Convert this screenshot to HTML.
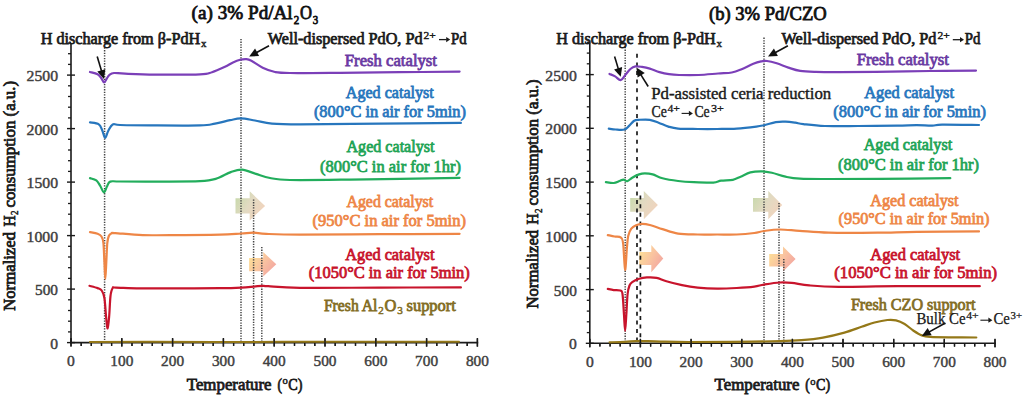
<!DOCTYPE html>
<html><head><meta charset="utf-8"><title>TPR profiles</title>
<style>
html,body{margin:0;padding:0;background:#fff;}
body{width:1024px;height:398px;overflow:hidden;font-family:"Liberation Serif", serif;}
svg{display:block;}
</style></head><body>
<svg width="1024" height="398" viewBox="0 0 1024 398">
<defs>
<linearGradient id="gG" x1="0" y1="0.2" x2="1" y2="0.8"><stop offset="0" stop-color="#c8d9ac"/><stop offset="0.45" stop-color="#e2dac2"/><stop offset="1" stop-color="#f4d2bc"/></linearGradient>
<linearGradient id="gR" x1="0" y1="0.2" x2="1" y2="0.8"><stop offset="0" stop-color="#fde096"/><stop offset="0.5" stop-color="#f9c2a0"/><stop offset="1" stop-color="#f2a2a0"/></linearGradient>
</defs>
<rect width="1024" height="398" fill="#ffffff"/>
<g font-family="'Liberation Serif', serif">
<polygon points="235.5,198.2 249.7,198.2 249.7,191.3 265.1,205.9 249.7,220.4 249.7,213.4 235.5,213.4" fill="url(#gG)"/>
<polygon points="249.1,258.1 263.2,258.1 263.2,252.1 276.3,264.2 263.2,276.4 263.2,271.2 249.1,271.2" fill="url(#gR)"/>
<line x1="104.6" y1="47.5" x2="104.6" y2="342.6" stroke="#444444" stroke-width="1.50" stroke-dasharray="1.3 1.3"/>
<line x1="241.0" y1="39.0" x2="241.0" y2="342.6" stroke="#444444" stroke-width="1.50" stroke-dasharray="1.3 1.3"/>
<line x1="253.6" y1="199.5" x2="253.6" y2="342.6" stroke="#444444" stroke-width="1.50" stroke-dasharray="1.3 1.3"/>
<line x1="261.8" y1="247.0" x2="261.8" y2="342.6" stroke="#444444" stroke-width="1.50" stroke-dasharray="1.3 1.3"/>
<line x1="71.0" y1="43.0" x2="71.0" y2="343.4" stroke="#1a1a1a" stroke-width="1.6"/>
<line x1="70.2" y1="342.6" x2="478.2" y2="342.6" stroke="#1a1a1a" stroke-width="1.6"/>
<line x1="67.0" y1="342.6" x2="75.0" y2="342.6" stroke="#1a1a1a" stroke-width="1.4"/>
<text x="50.2" y="348.6" font-size="15.5" fill="#404040" stroke="#404040" stroke-width="0.45" font-weight="normal" textLength="7.8" lengthAdjust="spacingAndGlyphs">0</text>
<line x1="68.0" y1="331.9" x2="71.0" y2="331.9" stroke="#1a1a1a" stroke-width="1.3"/>
<line x1="68.0" y1="321.2" x2="71.0" y2="321.2" stroke="#1a1a1a" stroke-width="1.3"/>
<line x1="68.0" y1="310.5" x2="71.0" y2="310.5" stroke="#1a1a1a" stroke-width="1.3"/>
<line x1="68.0" y1="299.8" x2="71.0" y2="299.8" stroke="#1a1a1a" stroke-width="1.3"/>
<line x1="67.0" y1="289.1" x2="75.0" y2="289.1" stroke="#1a1a1a" stroke-width="1.4"/>
<text x="35.0" y="295.1" font-size="15.5" fill="#404040" stroke="#404040" stroke-width="0.45" font-weight="normal" textLength="23.0" lengthAdjust="spacingAndGlyphs">500</text>
<line x1="68.0" y1="278.4" x2="71.0" y2="278.4" stroke="#1a1a1a" stroke-width="1.3"/>
<line x1="68.0" y1="267.7" x2="71.0" y2="267.7" stroke="#1a1a1a" stroke-width="1.3"/>
<line x1="68.0" y1="257.0" x2="71.0" y2="257.0" stroke="#1a1a1a" stroke-width="1.3"/>
<line x1="68.0" y1="246.3" x2="71.0" y2="246.3" stroke="#1a1a1a" stroke-width="1.3"/>
<line x1="67.0" y1="235.6" x2="75.0" y2="235.6" stroke="#1a1a1a" stroke-width="1.4"/>
<text x="26.5" y="241.6" font-size="15.5" fill="#404040" stroke="#404040" stroke-width="0.45" font-weight="normal" textLength="31.5" lengthAdjust="spacingAndGlyphs">1000</text>
<line x1="68.0" y1="224.9" x2="71.0" y2="224.9" stroke="#1a1a1a" stroke-width="1.3"/>
<line x1="68.0" y1="214.2" x2="71.0" y2="214.2" stroke="#1a1a1a" stroke-width="1.3"/>
<line x1="68.0" y1="203.5" x2="71.0" y2="203.5" stroke="#1a1a1a" stroke-width="1.3"/>
<line x1="68.0" y1="192.8" x2="71.0" y2="192.8" stroke="#1a1a1a" stroke-width="1.3"/>
<line x1="67.0" y1="182.1" x2="75.0" y2="182.1" stroke="#1a1a1a" stroke-width="1.4"/>
<text x="26.5" y="188.1" font-size="15.5" fill="#404040" stroke="#404040" stroke-width="0.45" font-weight="normal" textLength="31.5" lengthAdjust="spacingAndGlyphs">1500</text>
<line x1="68.0" y1="171.4" x2="71.0" y2="171.4" stroke="#1a1a1a" stroke-width="1.3"/>
<line x1="68.0" y1="160.7" x2="71.0" y2="160.7" stroke="#1a1a1a" stroke-width="1.3"/>
<line x1="68.0" y1="150.0" x2="71.0" y2="150.0" stroke="#1a1a1a" stroke-width="1.3"/>
<line x1="68.0" y1="139.3" x2="71.0" y2="139.3" stroke="#1a1a1a" stroke-width="1.3"/>
<line x1="67.0" y1="128.6" x2="75.0" y2="128.6" stroke="#1a1a1a" stroke-width="1.4"/>
<text x="26.5" y="134.6" font-size="15.5" fill="#404040" stroke="#404040" stroke-width="0.45" font-weight="normal" textLength="31.5" lengthAdjust="spacingAndGlyphs">2000</text>
<line x1="68.0" y1="117.9" x2="71.0" y2="117.9" stroke="#1a1a1a" stroke-width="1.3"/>
<line x1="68.0" y1="107.2" x2="71.0" y2="107.2" stroke="#1a1a1a" stroke-width="1.3"/>
<line x1="68.0" y1="96.5" x2="71.0" y2="96.5" stroke="#1a1a1a" stroke-width="1.3"/>
<line x1="68.0" y1="85.8" x2="71.0" y2="85.8" stroke="#1a1a1a" stroke-width="1.3"/>
<line x1="67.0" y1="75.1" x2="75.0" y2="75.1" stroke="#1a1a1a" stroke-width="1.4"/>
<text x="26.5" y="81.1" font-size="15.5" fill="#404040" stroke="#404040" stroke-width="0.45" font-weight="normal" textLength="31.5" lengthAdjust="spacingAndGlyphs">2500</text>
<line x1="68.0" y1="64.4" x2="71.0" y2="64.4" stroke="#1a1a1a" stroke-width="1.3"/>
<line x1="68.0" y1="53.7" x2="71.0" y2="53.7" stroke="#1a1a1a" stroke-width="1.3"/>
<line x1="68.0" y1="43.0" x2="71.0" y2="43.0" stroke="#1a1a1a" stroke-width="1.3"/>
<line x1="71.0" y1="338.6" x2="71.0" y2="346.6" stroke="#1a1a1a" stroke-width="1.4"/>
<text x="67.1" y="366.2" font-size="15.5" fill="#404040" stroke="#404040" stroke-width="0.45" font-weight="normal" textLength="7.8" lengthAdjust="spacingAndGlyphs">0</text>
<line x1="81.2" y1="342.6" x2="81.2" y2="345.9" stroke="#1a1a1a" stroke-width="1.3"/>
<line x1="91.3" y1="342.6" x2="91.3" y2="345.9" stroke="#1a1a1a" stroke-width="1.3"/>
<line x1="101.5" y1="342.6" x2="101.5" y2="345.9" stroke="#1a1a1a" stroke-width="1.3"/>
<line x1="111.6" y1="342.6" x2="111.6" y2="345.9" stroke="#1a1a1a" stroke-width="1.3"/>
<line x1="121.8" y1="338.6" x2="121.8" y2="346.6" stroke="#1a1a1a" stroke-width="1.4"/>
<text x="110.3" y="366.2" font-size="15.5" fill="#404040" stroke="#404040" stroke-width="0.45" font-weight="normal" textLength="23.0" lengthAdjust="spacingAndGlyphs">100</text>
<line x1="132.0" y1="342.6" x2="132.0" y2="345.9" stroke="#1a1a1a" stroke-width="1.3"/>
<line x1="142.1" y1="342.6" x2="142.1" y2="345.9" stroke="#1a1a1a" stroke-width="1.3"/>
<line x1="152.3" y1="342.6" x2="152.3" y2="345.9" stroke="#1a1a1a" stroke-width="1.3"/>
<line x1="162.4" y1="342.6" x2="162.4" y2="345.9" stroke="#1a1a1a" stroke-width="1.3"/>
<line x1="172.6" y1="338.6" x2="172.6" y2="346.6" stroke="#1a1a1a" stroke-width="1.4"/>
<text x="161.1" y="366.2" font-size="15.5" fill="#404040" stroke="#404040" stroke-width="0.45" font-weight="normal" textLength="23.0" lengthAdjust="spacingAndGlyphs">200</text>
<line x1="182.8" y1="342.6" x2="182.8" y2="345.9" stroke="#1a1a1a" stroke-width="1.3"/>
<line x1="192.9" y1="342.6" x2="192.9" y2="345.9" stroke="#1a1a1a" stroke-width="1.3"/>
<line x1="203.1" y1="342.6" x2="203.1" y2="345.9" stroke="#1a1a1a" stroke-width="1.3"/>
<line x1="213.2" y1="342.6" x2="213.2" y2="345.9" stroke="#1a1a1a" stroke-width="1.3"/>
<line x1="223.4" y1="338.6" x2="223.4" y2="346.6" stroke="#1a1a1a" stroke-width="1.4"/>
<text x="211.9" y="366.2" font-size="15.5" fill="#404040" stroke="#404040" stroke-width="0.45" font-weight="normal" textLength="23.0" lengthAdjust="spacingAndGlyphs">300</text>
<line x1="233.6" y1="342.6" x2="233.6" y2="345.9" stroke="#1a1a1a" stroke-width="1.3"/>
<line x1="243.7" y1="342.6" x2="243.7" y2="345.9" stroke="#1a1a1a" stroke-width="1.3"/>
<line x1="253.9" y1="342.6" x2="253.9" y2="345.9" stroke="#1a1a1a" stroke-width="1.3"/>
<line x1="264.0" y1="342.6" x2="264.0" y2="345.9" stroke="#1a1a1a" stroke-width="1.3"/>
<line x1="274.2" y1="338.6" x2="274.2" y2="346.6" stroke="#1a1a1a" stroke-width="1.4"/>
<text x="262.7" y="366.2" font-size="15.5" fill="#404040" stroke="#404040" stroke-width="0.45" font-weight="normal" textLength="23.0" lengthAdjust="spacingAndGlyphs">400</text>
<line x1="284.4" y1="342.6" x2="284.4" y2="345.9" stroke="#1a1a1a" stroke-width="1.3"/>
<line x1="294.5" y1="342.6" x2="294.5" y2="345.9" stroke="#1a1a1a" stroke-width="1.3"/>
<line x1="304.7" y1="342.6" x2="304.7" y2="345.9" stroke="#1a1a1a" stroke-width="1.3"/>
<line x1="314.8" y1="342.6" x2="314.8" y2="345.9" stroke="#1a1a1a" stroke-width="1.3"/>
<line x1="325.0" y1="338.6" x2="325.0" y2="346.6" stroke="#1a1a1a" stroke-width="1.4"/>
<text x="313.5" y="366.2" font-size="15.5" fill="#404040" stroke="#404040" stroke-width="0.45" font-weight="normal" textLength="23.0" lengthAdjust="spacingAndGlyphs">500</text>
<line x1="335.2" y1="342.6" x2="335.2" y2="345.9" stroke="#1a1a1a" stroke-width="1.3"/>
<line x1="345.3" y1="342.6" x2="345.3" y2="345.9" stroke="#1a1a1a" stroke-width="1.3"/>
<line x1="355.5" y1="342.6" x2="355.5" y2="345.9" stroke="#1a1a1a" stroke-width="1.3"/>
<line x1="365.6" y1="342.6" x2="365.6" y2="345.9" stroke="#1a1a1a" stroke-width="1.3"/>
<line x1="375.8" y1="338.6" x2="375.8" y2="346.6" stroke="#1a1a1a" stroke-width="1.4"/>
<text x="364.3" y="366.2" font-size="15.5" fill="#404040" stroke="#404040" stroke-width="0.45" font-weight="normal" textLength="23.0" lengthAdjust="spacingAndGlyphs">600</text>
<line x1="386.0" y1="342.6" x2="386.0" y2="345.9" stroke="#1a1a1a" stroke-width="1.3"/>
<line x1="396.1" y1="342.6" x2="396.1" y2="345.9" stroke="#1a1a1a" stroke-width="1.3"/>
<line x1="406.3" y1="342.6" x2="406.3" y2="345.9" stroke="#1a1a1a" stroke-width="1.3"/>
<line x1="416.4" y1="342.6" x2="416.4" y2="345.9" stroke="#1a1a1a" stroke-width="1.3"/>
<line x1="426.6" y1="338.6" x2="426.6" y2="346.6" stroke="#1a1a1a" stroke-width="1.4"/>
<text x="415.1" y="366.2" font-size="15.5" fill="#404040" stroke="#404040" stroke-width="0.45" font-weight="normal" textLength="23.0" lengthAdjust="spacingAndGlyphs">700</text>
<line x1="436.8" y1="342.6" x2="436.8" y2="345.9" stroke="#1a1a1a" stroke-width="1.3"/>
<line x1="446.9" y1="342.6" x2="446.9" y2="345.9" stroke="#1a1a1a" stroke-width="1.3"/>
<line x1="457.1" y1="342.6" x2="457.1" y2="345.9" stroke="#1a1a1a" stroke-width="1.3"/>
<line x1="467.2" y1="342.6" x2="467.2" y2="345.9" stroke="#1a1a1a" stroke-width="1.3"/>
<line x1="477.4" y1="338.6" x2="477.4" y2="346.6" stroke="#1a1a1a" stroke-width="1.4"/>
<text x="465.9" y="366.2" font-size="15.5" fill="#404040" stroke="#404040" stroke-width="0.45" font-weight="normal" textLength="23.0" lengthAdjust="spacingAndGlyphs">800</text>
<path d="M90.00,72.00 C91.27,72.37 95.68,73.12 97.60,74.20 C99.52,75.28 100.42,77.12 101.50,78.50 C102.58,79.88 103.22,82.50 104.10,82.50 C104.98,82.50 105.90,79.78 106.80,78.50 C107.70,77.22 108.30,75.72 109.50,74.80 C110.70,73.88 111.42,73.18 114.00,73.00 C116.58,72.82 118.17,73.43 125.00,73.70 C131.83,73.97 142.50,74.48 155.00,74.60 C167.50,74.72 190.50,74.80 200.00,74.40 C209.50,74.00 207.83,73.47 212.00,72.20 C216.17,70.93 221.50,68.42 225.00,66.80 C228.50,65.18 230.48,63.67 233.00,62.50 C235.52,61.33 237.87,60.37 240.10,59.80 C242.33,59.23 244.52,58.93 246.40,59.10 C248.28,59.27 248.68,59.37 251.40,60.80 C254.12,62.23 258.77,65.83 262.70,67.70 C266.63,69.57 270.45,71.12 275.00,72.00 C279.55,72.88 279.17,72.87 290.00,73.00 C300.83,73.13 321.67,72.93 340.00,72.80 C358.33,72.67 380.07,72.40 400.00,72.20 C419.93,72.00 449.67,71.70 459.60,71.60" fill="none" stroke="#7b3fb8" stroke-width="2.20" stroke-linejoin="round" stroke-linecap="round" />
<path d="M90.00,122.40 C91.47,122.72 96.75,122.95 98.80,124.30 C100.85,125.65 101.25,128.25 102.30,130.50 C103.35,132.75 104.12,137.72 105.10,137.80 C106.08,137.88 106.93,133.22 108.20,131.00 C109.47,128.78 110.73,125.50 112.70,124.50 C114.67,123.50 113.78,124.85 120.00,125.00 C126.22,125.15 136.67,125.33 150.00,125.40 C163.33,125.47 189.17,125.70 200.00,125.40 C210.83,125.10 210.00,124.47 215.00,123.60 C220.00,122.73 225.70,121.07 230.00,120.20 C234.30,119.33 236.63,118.35 240.80,118.40 C244.97,118.45 249.80,119.63 255.00,120.50 C260.20,121.37 264.50,122.97 272.00,123.60 C279.50,124.23 282.00,124.30 300.00,124.30 C318.00,124.30 353.18,123.83 380.00,123.60 C406.82,123.37 447.42,123.02 460.90,122.90" fill="none" stroke="#2776bd" stroke-width="2.20" stroke-linejoin="round" stroke-linecap="round" />
<path d="M90.00,178.10 C91.05,178.48 94.58,179.08 96.30,180.40 C98.02,181.72 99.03,184.02 100.30,186.00 C101.57,187.98 102.78,192.22 103.90,192.30 C105.02,192.38 105.95,188.28 107.00,186.50 C108.05,184.72 108.03,182.43 110.20,181.60 C112.37,180.77 111.70,181.50 120.00,181.50 C128.30,181.50 146.67,181.65 160.00,181.60 C173.33,181.55 190.72,181.65 200.00,181.20 C209.28,180.75 210.57,180.42 215.70,178.90 C220.83,177.38 226.42,173.65 230.80,172.10 C235.18,170.55 237.82,169.30 242.00,169.60 C246.18,169.90 251.23,172.50 255.90,173.90 C260.57,175.30 264.32,176.98 270.00,178.00 C275.68,179.02 276.67,179.73 290.00,180.00 C303.33,180.27 321.73,179.97 350.00,179.60 C378.27,179.23 441.33,178.10 459.60,177.80" fill="none" stroke="#22ad5c" stroke-width="2.20" stroke-linejoin="round" stroke-linecap="round" />
<path d="M90.00,232.10 C91.27,232.38 95.68,233.07 97.60,233.80 C99.52,234.53 100.53,234.97 101.50,236.50 C102.47,238.03 102.92,238.75 103.40,243.00 C103.88,247.25 104.08,256.00 104.40,262.00 C104.72,268.00 104.98,279.00 105.30,279.00 C105.62,279.00 105.97,268.00 106.30,262.00 C106.63,256.00 106.88,247.33 107.30,243.00 C107.72,238.67 108.13,237.60 108.80,236.00 C109.47,234.40 110.23,233.88 111.30,233.40 C112.37,232.92 109.95,232.82 115.20,233.10 C120.45,233.38 132.00,234.77 142.80,235.10 C153.60,235.43 167.13,235.17 180.00,235.10 C192.87,235.03 209.82,234.97 220.00,234.70 C230.18,234.43 235.47,233.83 241.10,233.50 C246.73,233.17 249.62,232.63 253.80,232.70 C257.98,232.77 258.50,233.57 266.20,233.90 C273.90,234.23 281.03,234.65 300.00,234.70 C318.97,234.75 353.40,234.35 380.00,234.20 C406.60,234.05 446.33,233.87 459.60,233.80" fill="none" stroke="#ee8646" stroke-width="2.20" stroke-linejoin="round" stroke-linecap="round" />
<path d="M89.50,285.80 C90.85,286.18 95.57,287.32 97.60,288.10 C99.63,288.88 100.57,288.85 101.70,290.50 C102.83,292.15 103.65,293.42 104.40,298.00 C105.15,302.58 105.65,312.93 106.20,318.00 C106.75,323.07 107.20,328.73 107.70,328.40 C108.20,328.07 108.73,321.40 109.20,316.00 C109.67,310.60 109.92,300.67 110.50,296.00 C111.08,291.33 111.78,289.40 112.70,288.00 C113.62,286.60 111.45,287.55 116.00,287.60 C120.55,287.65 129.33,288.18 140.00,288.30 C150.67,288.42 166.67,288.32 180.00,288.30 C193.33,288.28 209.82,288.32 220.00,288.20 C230.18,288.08 235.47,287.87 241.10,287.60 C246.73,287.33 250.28,286.90 253.80,286.60 C257.32,286.30 259.80,285.87 262.20,285.80 C264.60,285.73 261.90,285.87 268.20,286.20 C274.50,286.53 281.37,287.57 300.00,287.80 C318.63,288.03 353.18,287.67 380.00,287.60 C406.82,287.53 447.42,287.43 460.90,287.40" fill="none" stroke="#c8142c" stroke-width="2.20" stroke-linejoin="round" stroke-linecap="round" />
<path d="M89.90,342.00 C99.92,341.97 123.32,341.82 150.00,341.80 C176.68,341.78 216.67,341.92 250.00,341.90 C283.33,341.88 315.17,341.72 350.00,341.70 C384.83,341.68 440.83,341.78 459.00,341.80" fill="none" stroke="#947818" stroke-width="2.00" stroke-linejoin="round" stroke-linecap="round" />
<line x1="71.0" y1="338.0" x2="71.0" y2="346.6" stroke="#1a1a1a" stroke-width="1.4"/>
<line x1="81.2" y1="343.2" x2="81.2" y2="345.9" stroke="#1a1a1a" stroke-width="1.3"/>
<line x1="91.3" y1="343.2" x2="91.3" y2="345.9" stroke="#1a1a1a" stroke-width="1.3"/>
<line x1="101.5" y1="343.2" x2="101.5" y2="345.9" stroke="#1a1a1a" stroke-width="1.3"/>
<line x1="111.6" y1="343.2" x2="111.6" y2="345.9" stroke="#1a1a1a" stroke-width="1.3"/>
<line x1="121.8" y1="338.0" x2="121.8" y2="346.6" stroke="#1a1a1a" stroke-width="1.4"/>
<line x1="132.0" y1="343.2" x2="132.0" y2="345.9" stroke="#1a1a1a" stroke-width="1.3"/>
<line x1="142.1" y1="343.2" x2="142.1" y2="345.9" stroke="#1a1a1a" stroke-width="1.3"/>
<line x1="152.3" y1="343.2" x2="152.3" y2="345.9" stroke="#1a1a1a" stroke-width="1.3"/>
<line x1="162.4" y1="343.2" x2="162.4" y2="345.9" stroke="#1a1a1a" stroke-width="1.3"/>
<line x1="172.6" y1="338.0" x2="172.6" y2="346.6" stroke="#1a1a1a" stroke-width="1.4"/>
<line x1="182.8" y1="343.2" x2="182.8" y2="345.9" stroke="#1a1a1a" stroke-width="1.3"/>
<line x1="192.9" y1="343.2" x2="192.9" y2="345.9" stroke="#1a1a1a" stroke-width="1.3"/>
<line x1="203.1" y1="343.2" x2="203.1" y2="345.9" stroke="#1a1a1a" stroke-width="1.3"/>
<line x1="213.2" y1="343.2" x2="213.2" y2="345.9" stroke="#1a1a1a" stroke-width="1.3"/>
<line x1="223.4" y1="338.0" x2="223.4" y2="346.6" stroke="#1a1a1a" stroke-width="1.4"/>
<line x1="233.6" y1="343.2" x2="233.6" y2="345.9" stroke="#1a1a1a" stroke-width="1.3"/>
<line x1="243.7" y1="343.2" x2="243.7" y2="345.9" stroke="#1a1a1a" stroke-width="1.3"/>
<line x1="253.9" y1="343.2" x2="253.9" y2="345.9" stroke="#1a1a1a" stroke-width="1.3"/>
<line x1="264.0" y1="343.2" x2="264.0" y2="345.9" stroke="#1a1a1a" stroke-width="1.3"/>
<line x1="274.2" y1="338.0" x2="274.2" y2="346.6" stroke="#1a1a1a" stroke-width="1.4"/>
<line x1="284.4" y1="343.2" x2="284.4" y2="345.9" stroke="#1a1a1a" stroke-width="1.3"/>
<line x1="294.5" y1="343.2" x2="294.5" y2="345.9" stroke="#1a1a1a" stroke-width="1.3"/>
<line x1="304.7" y1="343.2" x2="304.7" y2="345.9" stroke="#1a1a1a" stroke-width="1.3"/>
<line x1="314.8" y1="343.2" x2="314.8" y2="345.9" stroke="#1a1a1a" stroke-width="1.3"/>
<line x1="325.0" y1="338.0" x2="325.0" y2="346.6" stroke="#1a1a1a" stroke-width="1.4"/>
<line x1="335.2" y1="343.2" x2="335.2" y2="345.9" stroke="#1a1a1a" stroke-width="1.3"/>
<line x1="345.3" y1="343.2" x2="345.3" y2="345.9" stroke="#1a1a1a" stroke-width="1.3"/>
<line x1="355.5" y1="343.2" x2="355.5" y2="345.9" stroke="#1a1a1a" stroke-width="1.3"/>
<line x1="365.6" y1="343.2" x2="365.6" y2="345.9" stroke="#1a1a1a" stroke-width="1.3"/>
<line x1="375.8" y1="338.0" x2="375.8" y2="346.6" stroke="#1a1a1a" stroke-width="1.4"/>
<line x1="386.0" y1="343.2" x2="386.0" y2="345.9" stroke="#1a1a1a" stroke-width="1.3"/>
<line x1="396.1" y1="343.2" x2="396.1" y2="345.9" stroke="#1a1a1a" stroke-width="1.3"/>
<line x1="406.3" y1="343.2" x2="406.3" y2="345.9" stroke="#1a1a1a" stroke-width="1.3"/>
<line x1="416.4" y1="343.2" x2="416.4" y2="345.9" stroke="#1a1a1a" stroke-width="1.3"/>
<line x1="426.6" y1="338.0" x2="426.6" y2="346.6" stroke="#1a1a1a" stroke-width="1.4"/>
<line x1="436.8" y1="343.2" x2="436.8" y2="345.9" stroke="#1a1a1a" stroke-width="1.3"/>
<line x1="446.9" y1="343.2" x2="446.9" y2="345.9" stroke="#1a1a1a" stroke-width="1.3"/>
<line x1="457.1" y1="343.2" x2="457.1" y2="345.9" stroke="#1a1a1a" stroke-width="1.3"/>
<line x1="467.2" y1="343.2" x2="467.2" y2="345.9" stroke="#1a1a1a" stroke-width="1.3"/>
<line x1="477.4" y1="338.0" x2="477.4" y2="346.6" stroke="#1a1a1a" stroke-width="1.4"/>
<line x1="97.2" y1="56.6" x2="101.61" y2="71.34" stroke="#111" stroke-width="1.60"/>
<polygon points="103.90,79.00 97.30,71.58 105.34,69.17" fill="#111"/>
<line x1="269.0" y1="45.7" x2="256.21" y2="52.74" stroke="#111" stroke-width="1.60"/>
<polygon points="249.20,56.60 255.06,48.58 259.11,55.94" fill="#111"/>
<text x="191.6" y="19.4" font-size="18.5" fill="#111" font-weight="normal" stroke="#111" stroke-width="0.8" textLength="101.1" lengthAdjust="spacingAndGlyphs">(a) 3% Pd/Al</text>
<text x="293.7" y="23.5" font-size="13.0" fill="#111" font-weight="normal" stroke="#111" stroke-width="0.8" textLength="5.5" lengthAdjust="spacingAndGlyphs">2</text>
<text x="300.0" y="19.4" font-size="18.5" fill="#111" font-weight="normal" stroke="#111" stroke-width="0.8" textLength="12.0" lengthAdjust="spacingAndGlyphs">O</text>
<text x="312.8" y="23.5" font-size="13.0" fill="#111" font-weight="normal" stroke="#111" stroke-width="0.8" textLength="5.4" lengthAdjust="spacingAndGlyphs">3</text>
<text x="40.7" y="44.4" font-size="16.5" fill="#1a1a1a" font-weight="normal" stroke="#1a1a1a" stroke-width="0.75" textLength="159.5" lengthAdjust="spacingAndGlyphs">H discharge from &#946;-PdH</text>
<text x="201.0" y="47.4" font-size="11.0" fill="#1a1a1a" font-weight="normal" stroke="#1a1a1a" stroke-width="0.4" textLength="5.5" lengthAdjust="spacingAndGlyphs">x</text>
<text x="267.7" y="43.8" font-size="16.5" fill="#1a1a1a" font-weight="normal" stroke="#1a1a1a" stroke-width="0.75" textLength="154.9" lengthAdjust="spacingAndGlyphs">Well-dispersed PdO, Pd</text>
<text x="423.6" y="38.8" font-size="10.5" fill="#1a1a1a" font-weight="normal" stroke="#1a1a1a" stroke-width="0.4" textLength="12.3" lengthAdjust="spacingAndGlyphs">2+</text>
<line x1="439.0" y1="39.6" x2="446.7" y2="39.6" stroke="#1a1a1a" stroke-width="1.30"/>
<polygon points="450.2,39.6 446.2,37.0 446.2,42.2" fill="#1a1a1a"/>
<text x="451.0" y="43.8" font-size="16.5" fill="#1a1a1a" font-weight="normal" stroke="#1a1a1a" stroke-width="0.75" textLength="15.6" lengthAdjust="spacingAndGlyphs">Pd</text>
<text x="344.8" y="65.7" font-size="16.5" fill="#6a3aa2" font-weight="normal" stroke="#6a3aa2" stroke-width="0.77" textLength="92.2" lengthAdjust="spacingAndGlyphs">Fresh catalyst</text>
<text x="345.8" y="97.7" font-size="16.5" fill="#2776bd" font-weight="normal" stroke="#2776bd" stroke-width="0.77" textLength="88.0" lengthAdjust="spacingAndGlyphs">Aged catalyst</text>
<text x="313.9" y="117.3" font-size="16.5" fill="#2776bd" font-weight="normal" stroke="#2776bd" stroke-width="0.77" textLength="152.0" lengthAdjust="spacingAndGlyphs">(800&#176;C in air for 5min)</text>
<text x="346.5" y="152.1" font-size="16.5" fill="#1fa456" font-weight="normal" stroke="#1fa456" stroke-width="0.77" textLength="88.0" lengthAdjust="spacingAndGlyphs">Aged catalyst</text>
<text x="320.1" y="171.5" font-size="16.5" fill="#1fa456" font-weight="normal" stroke="#1fa456" stroke-width="0.77" textLength="140.8" lengthAdjust="spacingAndGlyphs">(800&#176;C in air for 1hr)</text>
<text x="346.5" y="206.7" font-size="16.5" fill="#ee8646" font-weight="normal" stroke="#ee8646" stroke-width="0.77" textLength="86.7" lengthAdjust="spacingAndGlyphs">Aged catalyst</text>
<text x="312.6" y="225.5" font-size="16.5" fill="#ee8646" font-weight="normal" stroke="#ee8646" stroke-width="0.77" textLength="153.3" lengthAdjust="spacingAndGlyphs">(950&#176;C in air for 5min)</text>
<text x="345.2" y="260.2" font-size="16.5" fill="#c8142c" font-weight="normal" stroke="#c8142c" stroke-width="0.77" textLength="89.3" lengthAdjust="spacingAndGlyphs">Aged catalyst</text>
<text x="308.8" y="278.3" font-size="16.5" fill="#c8142c" font-weight="normal" stroke="#c8142c" stroke-width="0.77" textLength="160.9" lengthAdjust="spacingAndGlyphs">(1050&#176;C in air for 5min)</text>
<text x="323.9" y="311.0" font-size="16.5" fill="#836d24" font-weight="normal" stroke="#836d24" stroke-width="0.77" textLength="53.6" lengthAdjust="spacingAndGlyphs">Fresh Al</text>
<text x="378.3" y="314.3" font-size="11.0" fill="#836d24" font-weight="normal" stroke="#836d24" stroke-width="0.52" textLength="5.5" lengthAdjust="spacingAndGlyphs">2</text>
<text x="384.6" y="311.0" font-size="16.5" fill="#836d24" font-weight="normal" stroke="#836d24" stroke-width="0.77" textLength="11.9" lengthAdjust="spacingAndGlyphs">O</text>
<text x="397.3" y="314.3" font-size="11.0" fill="#836d24" font-weight="normal" stroke="#836d24" stroke-width="0.52" textLength="5.5" lengthAdjust="spacingAndGlyphs">3</text>
<text x="406.5" y="311.0" font-size="16.5" fill="#836d24" font-weight="normal" stroke="#836d24" stroke-width="0.77" textLength="49.4" lengthAdjust="spacingAndGlyphs">support</text>
<text x="186.8" y="389.6" font-size="16.5" fill="#1a1a1a" font-weight="normal" stroke="#1a1a1a" stroke-width="0.77" textLength="84.8" lengthAdjust="spacingAndGlyphs">Temperature</text>
<text x="277.4" y="389.6" font-size="16.5" fill="#1a1a1a" font-weight="normal" stroke="#1a1a1a" stroke-width="0.77" textLength="4.5" lengthAdjust="spacingAndGlyphs">(</text>
<text x="282.5" y="384.1" font-size="10.0" fill="#1a1a1a" font-weight="normal" stroke="#1a1a1a" stroke-width="0.47" textLength="5.3" lengthAdjust="spacingAndGlyphs">o</text>
<text x="288.3" y="389.6" font-size="16.5" fill="#1a1a1a" font-weight="normal" stroke="#1a1a1a" stroke-width="0.77" textLength="14.1" lengthAdjust="spacingAndGlyphs">C)</text>
<g transform="translate(14.8,310.8) rotate(-90)">
<text x="0.0" y="0.0" font-size="16.5" fill="#1a1a1a" font-weight="normal" stroke="#1a1a1a" stroke-width="0.77" textLength="78.8" lengthAdjust="spacingAndGlyphs">Normalized</text>
<text x="84.2" y="0.0" font-size="16.5" fill="#1a1a1a" font-weight="normal" stroke="#1a1a1a" stroke-width="0.77" textLength="11.1" lengthAdjust="spacingAndGlyphs">H</text>
<text x="95.8" y="3.6" font-size="11.0" fill="#1a1a1a" font-weight="normal" stroke="#1a1a1a" stroke-width="0.52" textLength="4.5" lengthAdjust="spacingAndGlyphs">2</text>
<text x="103.3" y="0.0" font-size="16.5" fill="#1a1a1a" font-weight="normal" stroke="#1a1a1a" stroke-width="0.77" textLength="126.5" lengthAdjust="spacingAndGlyphs">consumption (a.u.)</text>
</g>
<polygon points="630.2,198.1 643.8,198.1 643.8,191.0 657.9,205.1 643.8,219.2 643.8,211.8 630.2,211.8" fill="url(#gG)"/>
<polygon points="753.0,198.1 768.3,198.1 768.3,191.0 782.2,205.1 768.3,219.2 768.3,211.8 753.0,211.8" fill="url(#gG)"/>
<polygon points="639.2,252.1 651.3,252.1 651.3,245.0 663.3,258.6 651.3,272.2 651.3,265.1 639.2,265.1" fill="url(#gR)"/>
<polygon points="769.2,254.0 783.0,254.0 783.0,246.5 795.6,259.1 783.0,271.6 783.0,266.6 769.2,266.6" fill="url(#gR)"/>
<line x1="625.2" y1="47.0" x2="625.2" y2="343.3" stroke="#444444" stroke-width="1.50" stroke-dasharray="1.3 1.3"/>
<line x1="764.0" y1="37.6" x2="764.0" y2="343.3" stroke="#444444" stroke-width="1.50" stroke-dasharray="1.3 1.3"/>
<line x1="779.0" y1="203.0" x2="779.0" y2="343.3" stroke="#444444" stroke-width="1.50" stroke-dasharray="1.3 1.3"/>
<line x1="783.8" y1="259.0" x2="783.8" y2="343.3" stroke="#444444" stroke-width="1.50" stroke-dasharray="1.3 1.3"/>
<line x1="637.0" y1="53.8" x2="637.0" y2="343.3" stroke="#1a1a1a" stroke-width="1.7" stroke-dasharray="4 4.6"/>
<line x1="640.4" y1="191" x2="640.4" y2="343.3" stroke="#1a1a1a" stroke-width="1.7" stroke-dasharray="4 4.6" stroke-dashoffset="4"/>
<line x1="589.8" y1="42.6" x2="589.8" y2="344.1" stroke="#1a1a1a" stroke-width="1.6"/>
<line x1="589.0" y1="343.3" x2="995.8" y2="343.3" stroke="#1a1a1a" stroke-width="1.6"/>
<line x1="585.8" y1="343.3" x2="593.8" y2="343.3" stroke="#1a1a1a" stroke-width="1.4"/>
<text x="569.0" y="349.3" font-size="15.5" fill="#404040" stroke="#404040" stroke-width="0.45" font-weight="normal" textLength="7.8" lengthAdjust="spacingAndGlyphs">0</text>
<line x1="586.8" y1="332.6" x2="589.8" y2="332.6" stroke="#1a1a1a" stroke-width="1.3"/>
<line x1="586.8" y1="321.8" x2="589.8" y2="321.8" stroke="#1a1a1a" stroke-width="1.3"/>
<line x1="586.8" y1="311.1" x2="589.8" y2="311.1" stroke="#1a1a1a" stroke-width="1.3"/>
<line x1="586.8" y1="300.3" x2="589.8" y2="300.3" stroke="#1a1a1a" stroke-width="1.3"/>
<line x1="585.8" y1="289.6" x2="593.8" y2="289.6" stroke="#1a1a1a" stroke-width="1.4"/>
<text x="553.8" y="295.6" font-size="15.5" fill="#404040" stroke="#404040" stroke-width="0.45" font-weight="normal" textLength="23.0" lengthAdjust="spacingAndGlyphs">500</text>
<line x1="586.8" y1="278.8" x2="589.8" y2="278.8" stroke="#1a1a1a" stroke-width="1.3"/>
<line x1="586.8" y1="268.1" x2="589.8" y2="268.1" stroke="#1a1a1a" stroke-width="1.3"/>
<line x1="586.8" y1="257.3" x2="589.8" y2="257.3" stroke="#1a1a1a" stroke-width="1.3"/>
<line x1="586.8" y1="246.6" x2="589.8" y2="246.6" stroke="#1a1a1a" stroke-width="1.3"/>
<line x1="585.8" y1="235.8" x2="593.8" y2="235.8" stroke="#1a1a1a" stroke-width="1.4"/>
<text x="545.3" y="241.8" font-size="15.5" fill="#404040" stroke="#404040" stroke-width="0.45" font-weight="normal" textLength="31.5" lengthAdjust="spacingAndGlyphs">1000</text>
<line x1="586.8" y1="225.1" x2="589.8" y2="225.1" stroke="#1a1a1a" stroke-width="1.3"/>
<line x1="586.8" y1="214.3" x2="589.8" y2="214.3" stroke="#1a1a1a" stroke-width="1.3"/>
<line x1="586.8" y1="203.6" x2="589.8" y2="203.6" stroke="#1a1a1a" stroke-width="1.3"/>
<line x1="586.8" y1="192.8" x2="589.8" y2="192.8" stroke="#1a1a1a" stroke-width="1.3"/>
<line x1="585.8" y1="182.1" x2="593.8" y2="182.1" stroke="#1a1a1a" stroke-width="1.4"/>
<text x="545.3" y="188.1" font-size="15.5" fill="#404040" stroke="#404040" stroke-width="0.45" font-weight="normal" textLength="31.5" lengthAdjust="spacingAndGlyphs">1500</text>
<line x1="586.8" y1="171.3" x2="589.8" y2="171.3" stroke="#1a1a1a" stroke-width="1.3"/>
<line x1="586.8" y1="160.6" x2="589.8" y2="160.6" stroke="#1a1a1a" stroke-width="1.3"/>
<line x1="586.8" y1="149.8" x2="589.8" y2="149.8" stroke="#1a1a1a" stroke-width="1.3"/>
<line x1="586.8" y1="139.1" x2="589.8" y2="139.1" stroke="#1a1a1a" stroke-width="1.3"/>
<line x1="585.8" y1="128.3" x2="593.8" y2="128.3" stroke="#1a1a1a" stroke-width="1.4"/>
<text x="545.3" y="134.3" font-size="15.5" fill="#404040" stroke="#404040" stroke-width="0.45" font-weight="normal" textLength="31.5" lengthAdjust="spacingAndGlyphs">2000</text>
<line x1="586.8" y1="117.6" x2="589.8" y2="117.6" stroke="#1a1a1a" stroke-width="1.3"/>
<line x1="586.8" y1="106.8" x2="589.8" y2="106.8" stroke="#1a1a1a" stroke-width="1.3"/>
<line x1="586.8" y1="96.1" x2="589.8" y2="96.1" stroke="#1a1a1a" stroke-width="1.3"/>
<line x1="586.8" y1="85.3" x2="589.8" y2="85.3" stroke="#1a1a1a" stroke-width="1.3"/>
<line x1="585.8" y1="74.6" x2="593.8" y2="74.6" stroke="#1a1a1a" stroke-width="1.4"/>
<text x="545.3" y="80.6" font-size="15.5" fill="#404040" stroke="#404040" stroke-width="0.45" font-weight="normal" textLength="31.5" lengthAdjust="spacingAndGlyphs">2500</text>
<line x1="586.8" y1="63.8" x2="589.8" y2="63.8" stroke="#1a1a1a" stroke-width="1.3"/>
<line x1="586.8" y1="53.1" x2="589.8" y2="53.1" stroke="#1a1a1a" stroke-width="1.3"/>
<line x1="586.8" y1="42.3" x2="589.8" y2="42.3" stroke="#1a1a1a" stroke-width="1.3"/>
<line x1="589.8" y1="339.3" x2="589.8" y2="347.3" stroke="#1a1a1a" stroke-width="1.4"/>
<text x="585.9" y="367.1" font-size="15.5" fill="#404040" stroke="#404040" stroke-width="0.45" font-weight="normal" textLength="7.8" lengthAdjust="spacingAndGlyphs">0</text>
<line x1="599.9" y1="343.3" x2="599.9" y2="346.6" stroke="#1a1a1a" stroke-width="1.3"/>
<line x1="610.1" y1="343.3" x2="610.1" y2="346.6" stroke="#1a1a1a" stroke-width="1.3"/>
<line x1="620.2" y1="343.3" x2="620.2" y2="346.6" stroke="#1a1a1a" stroke-width="1.3"/>
<line x1="630.3" y1="343.3" x2="630.3" y2="346.6" stroke="#1a1a1a" stroke-width="1.3"/>
<line x1="640.4" y1="339.3" x2="640.4" y2="347.3" stroke="#1a1a1a" stroke-width="1.4"/>
<text x="628.9" y="367.1" font-size="15.5" fill="#404040" stroke="#404040" stroke-width="0.45" font-weight="normal" textLength="23.0" lengthAdjust="spacingAndGlyphs">100</text>
<line x1="650.6" y1="343.3" x2="650.6" y2="346.6" stroke="#1a1a1a" stroke-width="1.3"/>
<line x1="660.7" y1="343.3" x2="660.7" y2="346.6" stroke="#1a1a1a" stroke-width="1.3"/>
<line x1="670.8" y1="343.3" x2="670.8" y2="346.6" stroke="#1a1a1a" stroke-width="1.3"/>
<line x1="681.0" y1="343.3" x2="681.0" y2="346.6" stroke="#1a1a1a" stroke-width="1.3"/>
<line x1="691.1" y1="339.3" x2="691.1" y2="347.3" stroke="#1a1a1a" stroke-width="1.4"/>
<text x="679.6" y="367.1" font-size="15.5" fill="#404040" stroke="#404040" stroke-width="0.45" font-weight="normal" textLength="23.0" lengthAdjust="spacingAndGlyphs">200</text>
<line x1="701.2" y1="343.3" x2="701.2" y2="346.6" stroke="#1a1a1a" stroke-width="1.3"/>
<line x1="711.4" y1="343.3" x2="711.4" y2="346.6" stroke="#1a1a1a" stroke-width="1.3"/>
<line x1="721.5" y1="343.3" x2="721.5" y2="346.6" stroke="#1a1a1a" stroke-width="1.3"/>
<line x1="731.6" y1="343.3" x2="731.6" y2="346.6" stroke="#1a1a1a" stroke-width="1.3"/>
<line x1="741.8" y1="339.3" x2="741.8" y2="347.3" stroke="#1a1a1a" stroke-width="1.4"/>
<text x="730.2" y="367.1" font-size="15.5" fill="#404040" stroke="#404040" stroke-width="0.45" font-weight="normal" textLength="23.0" lengthAdjust="spacingAndGlyphs">300</text>
<line x1="751.9" y1="343.3" x2="751.9" y2="346.6" stroke="#1a1a1a" stroke-width="1.3"/>
<line x1="762.0" y1="343.3" x2="762.0" y2="346.6" stroke="#1a1a1a" stroke-width="1.3"/>
<line x1="772.1" y1="343.3" x2="772.1" y2="346.6" stroke="#1a1a1a" stroke-width="1.3"/>
<line x1="782.3" y1="343.3" x2="782.3" y2="346.6" stroke="#1a1a1a" stroke-width="1.3"/>
<line x1="792.4" y1="339.3" x2="792.4" y2="347.3" stroke="#1a1a1a" stroke-width="1.4"/>
<text x="780.9" y="367.1" font-size="15.5" fill="#404040" stroke="#404040" stroke-width="0.45" font-weight="normal" textLength="23.0" lengthAdjust="spacingAndGlyphs">400</text>
<line x1="802.5" y1="343.3" x2="802.5" y2="346.6" stroke="#1a1a1a" stroke-width="1.3"/>
<line x1="812.7" y1="343.3" x2="812.7" y2="346.6" stroke="#1a1a1a" stroke-width="1.3"/>
<line x1="822.8" y1="343.3" x2="822.8" y2="346.6" stroke="#1a1a1a" stroke-width="1.3"/>
<line x1="832.9" y1="343.3" x2="832.9" y2="346.6" stroke="#1a1a1a" stroke-width="1.3"/>
<line x1="843.0" y1="339.3" x2="843.0" y2="347.3" stroke="#1a1a1a" stroke-width="1.4"/>
<text x="831.5" y="367.1" font-size="15.5" fill="#404040" stroke="#404040" stroke-width="0.45" font-weight="normal" textLength="23.0" lengthAdjust="spacingAndGlyphs">500</text>
<line x1="853.2" y1="343.3" x2="853.2" y2="346.6" stroke="#1a1a1a" stroke-width="1.3"/>
<line x1="863.3" y1="343.3" x2="863.3" y2="346.6" stroke="#1a1a1a" stroke-width="1.3"/>
<line x1="873.4" y1="343.3" x2="873.4" y2="346.6" stroke="#1a1a1a" stroke-width="1.3"/>
<line x1="883.6" y1="343.3" x2="883.6" y2="346.6" stroke="#1a1a1a" stroke-width="1.3"/>
<line x1="893.7" y1="339.3" x2="893.7" y2="347.3" stroke="#1a1a1a" stroke-width="1.4"/>
<text x="882.2" y="367.1" font-size="15.5" fill="#404040" stroke="#404040" stroke-width="0.45" font-weight="normal" textLength="23.0" lengthAdjust="spacingAndGlyphs">600</text>
<line x1="903.8" y1="343.3" x2="903.8" y2="346.6" stroke="#1a1a1a" stroke-width="1.3"/>
<line x1="914.0" y1="343.3" x2="914.0" y2="346.6" stroke="#1a1a1a" stroke-width="1.3"/>
<line x1="924.1" y1="343.3" x2="924.1" y2="346.6" stroke="#1a1a1a" stroke-width="1.3"/>
<line x1="934.2" y1="343.3" x2="934.2" y2="346.6" stroke="#1a1a1a" stroke-width="1.3"/>
<line x1="944.3" y1="339.3" x2="944.3" y2="347.3" stroke="#1a1a1a" stroke-width="1.4"/>
<text x="932.8" y="367.1" font-size="15.5" fill="#404040" stroke="#404040" stroke-width="0.45" font-weight="normal" textLength="23.0" lengthAdjust="spacingAndGlyphs">700</text>
<line x1="954.5" y1="343.3" x2="954.5" y2="346.6" stroke="#1a1a1a" stroke-width="1.3"/>
<line x1="964.6" y1="343.3" x2="964.6" y2="346.6" stroke="#1a1a1a" stroke-width="1.3"/>
<line x1="974.7" y1="343.3" x2="974.7" y2="346.6" stroke="#1a1a1a" stroke-width="1.3"/>
<line x1="984.9" y1="343.3" x2="984.9" y2="346.6" stroke="#1a1a1a" stroke-width="1.3"/>
<line x1="995.0" y1="339.3" x2="995.0" y2="347.3" stroke="#1a1a1a" stroke-width="1.4"/>
<text x="983.5" y="367.1" font-size="15.5" fill="#404040" stroke="#404040" stroke-width="0.45" font-weight="normal" textLength="23.0" lengthAdjust="spacingAndGlyphs">800</text>
<path d="M609.50,73.90 C610.43,74.32 613.25,75.35 615.10,76.40 C616.95,77.45 618.93,80.40 620.60,80.20 C622.27,80.00 623.47,77.07 625.10,75.20 C626.73,73.33 628.67,70.47 630.40,69.00 C632.13,67.53 633.57,66.75 635.50,66.40 C637.43,66.05 639.62,66.53 642.00,66.90 C644.38,67.27 646.88,67.73 649.80,68.60 C652.72,69.47 656.30,71.17 659.50,72.10 C662.70,73.03 665.73,73.72 669.00,74.20 C672.27,74.68 674.17,74.87 679.10,75.00 C684.03,75.13 692.10,75.25 698.60,75.00 C705.10,74.75 712.57,73.92 718.10,73.50 C723.63,73.08 727.88,73.22 731.80,72.50 C735.72,71.78 738.02,70.67 741.60,69.20 C745.18,67.73 750.05,65.00 753.30,63.70 C756.55,62.40 758.82,61.85 761.10,61.40 C763.38,60.95 764.40,60.68 767.00,61.00 C769.60,61.32 773.13,62.20 776.70,63.30 C780.27,64.40 784.48,66.33 788.40,67.60 C792.32,68.87 795.63,70.18 800.20,70.90 C804.77,71.62 809.17,71.70 815.80,71.90 C822.43,72.10 830.00,72.12 840.00,72.10 C850.00,72.08 860.80,71.98 875.80,71.80 C890.80,71.62 913.30,71.20 930.00,71.00 C946.70,70.80 968.33,70.67 976.00,70.60" fill="none" stroke="#7b3fb8" stroke-width="2.20" stroke-linejoin="round" stroke-linecap="round" />
<path d="M608.80,128.60 C609.93,128.75 613.00,129.35 615.60,129.50 C618.20,129.65 622.12,130.15 624.40,129.50 C626.68,128.85 627.67,127.07 629.30,125.60 C630.93,124.13 632.57,121.67 634.20,120.70 C635.83,119.73 636.50,119.95 639.10,119.80 C641.70,119.65 646.55,119.32 649.80,119.80 C653.05,120.28 655.50,121.57 658.60,122.70 C661.70,123.83 665.15,125.62 668.40,126.60 C671.65,127.58 673.22,128.20 678.10,128.60 C682.98,129.00 691.18,128.93 697.70,129.00 C704.22,129.07 710.70,129.07 717.20,129.00 C723.70,128.93 730.18,129.00 736.70,128.60 C743.22,128.20 751.75,127.17 756.30,126.60 C760.85,126.03 760.75,125.95 764.00,125.20 C767.25,124.45 772.22,122.68 775.80,122.10 C779.38,121.52 782.25,121.60 785.50,121.70 C788.75,121.80 792.32,122.30 795.30,122.70 C798.28,123.10 798.47,123.55 803.40,124.10 C808.33,124.65 815.78,125.68 824.90,126.00 C834.02,126.32 846.05,126.07 858.10,126.00 C870.15,125.93 887.43,125.73 897.20,125.60 C906.97,125.47 910.85,125.20 916.70,125.20 C922.55,125.20 928.07,125.70 932.30,125.60 C936.53,125.50 934.32,124.70 942.10,124.60 C949.88,124.50 972.85,124.93 979.00,125.00" fill="none" stroke="#2776bd" stroke-width="2.20" stroke-linejoin="round" stroke-linecap="round" />
<path d="M605.90,182.20 C607.20,182.33 611.43,183.20 613.70,183.00 C615.97,182.80 617.88,181.57 619.50,181.00 C621.12,180.43 622.10,179.57 623.40,179.60 C624.70,179.63 625.83,181.52 627.30,181.20 C628.77,180.88 630.23,178.83 632.20,177.70 C634.17,176.57 636.98,175.12 639.10,174.40 C641.22,173.68 642.63,173.40 644.90,173.40 C647.17,173.40 649.77,173.58 652.70,174.40 C655.63,175.22 658.27,177.20 662.50,178.30 C666.73,179.40 672.88,180.35 678.10,181.00 C683.32,181.65 687.93,181.93 693.80,182.20 C699.67,182.47 708.75,182.87 713.30,182.60 C717.85,182.33 717.85,181.07 721.10,180.60 C724.35,180.13 729.55,180.45 732.80,179.80 C736.05,179.15 737.67,177.93 740.60,176.70 C743.53,175.47 746.82,173.28 750.40,172.40 C753.98,171.52 758.52,171.33 762.10,171.40 C765.68,171.47 768.00,171.92 771.90,172.80 C775.80,173.68 780.82,175.72 785.50,176.70 C790.18,177.68 792.58,178.32 800.00,178.70 C807.42,179.08 816.67,178.98 830.00,179.00 C843.33,179.02 859.95,178.93 880.00,178.80 C900.05,178.67 938.58,178.30 950.30,178.20" fill="none" stroke="#22ad5c" stroke-width="2.20" stroke-linejoin="round" stroke-linecap="round" />
<path d="M607.80,235.10 C608.93,235.33 612.40,236.08 614.60,236.50 C616.80,236.92 619.57,236.35 621.00,237.60 C622.43,238.85 622.52,238.63 623.20,244.00 C623.88,249.37 624.48,269.13 625.10,269.80 C625.72,270.47 626.38,253.63 626.90,248.00 C627.42,242.37 627.47,239.22 628.20,236.00 C628.93,232.78 629.98,230.50 631.30,228.70 C632.62,226.90 634.32,226.02 636.10,225.20 C637.88,224.38 639.55,223.80 642.00,223.80 C644.45,223.80 647.38,224.32 650.80,225.20 C654.22,226.08 657.95,227.70 662.50,229.10 C667.05,230.50 672.23,232.70 678.10,233.60 C683.97,234.50 691.18,234.35 697.70,234.50 C704.22,234.65 710.70,234.50 717.20,234.50 C723.70,234.50 730.52,234.75 736.70,234.50 C742.88,234.25 749.75,233.58 754.30,233.00 C758.85,232.42 759.77,231.58 764.00,231.00 C768.23,230.42 773.78,229.53 779.70,229.50 C785.62,229.47 791.32,230.27 799.50,230.80 C807.68,231.33 815.77,232.38 828.80,232.70 C841.83,233.02 863.05,232.85 877.70,232.70 C892.35,232.55 899.82,232.02 916.70,231.80 C933.58,231.58 968.62,231.47 979.00,231.40" fill="none" stroke="#ee8646" stroke-width="2.20" stroke-linejoin="round" stroke-linecap="round" />
<path d="M607.80,288.90 C608.78,289.10 611.62,289.82 613.70,290.10 C615.78,290.38 618.83,289.95 620.30,290.60 C621.77,291.25 621.88,289.93 622.50,294.00 C623.12,298.07 623.57,308.87 624.00,315.00 C624.43,321.13 624.72,330.80 625.10,330.80 C625.48,330.80 625.88,321.13 626.30,315.00 C626.72,308.87 627.07,298.92 627.60,294.00 C628.13,289.08 628.73,287.48 629.50,285.50 C630.27,283.52 630.60,283.22 632.20,282.10 C633.80,280.98 636.65,279.58 639.10,278.80 C641.55,278.02 643.98,277.57 646.90,277.40 C649.82,277.23 653.35,277.15 656.60,277.80 C659.85,278.45 662.17,280.07 666.40,281.30 C670.63,282.53 676.78,284.15 682.00,285.20 C687.22,286.25 691.83,287.03 697.70,287.60 C703.57,288.17 710.70,288.53 717.20,288.60 C723.70,288.67 730.52,288.33 736.70,288.00 C742.88,287.67 749.75,287.17 754.30,286.60 C758.85,286.03 759.77,285.28 764.00,284.60 C768.23,283.92 775.08,282.78 779.70,282.50 C784.32,282.22 786.77,282.42 791.70,282.90 C796.63,283.38 801.48,284.75 809.30,285.40 C817.12,286.05 823.95,286.67 838.60,286.80 C853.25,286.93 873.67,286.30 897.20,286.20 C920.73,286.10 966.03,286.20 979.80,286.20" fill="none" stroke="#c8142c" stroke-width="2.20" stroke-linejoin="round" stroke-linecap="round" />
<path d="M609.60,342.30 C612.17,342.22 620.60,342.00 625.00,341.80 C629.40,341.60 632.22,341.22 636.00,341.10 C639.78,340.98 642.82,341.00 647.70,341.10 C652.58,341.20 658.45,341.55 665.30,341.70 C672.15,341.85 678.02,341.97 688.80,342.00 C699.58,342.03 714.80,342.03 730.00,341.90 C745.20,341.77 768.08,341.48 780.00,341.20 C791.92,340.92 794.33,340.80 801.50,340.20 C808.67,339.60 815.85,338.87 823.00,337.60 C830.15,336.33 837.97,334.40 844.40,332.60 C850.83,330.80 856.58,328.48 861.60,326.80 C866.62,325.12 870.20,323.63 874.50,322.50 C878.80,321.37 883.82,320.35 887.40,320.00 C890.98,319.65 893.13,319.73 896.00,320.40 C898.87,321.07 901.73,322.32 904.60,324.00 C907.47,325.68 910.33,328.60 913.20,330.50 C916.07,332.40 918.93,334.33 921.80,335.40 C924.67,336.47 925.38,336.57 930.40,336.90 C935.42,337.23 944.25,337.30 951.90,337.40 C959.55,337.50 972.23,337.48 976.30,337.50" fill="none" stroke="#947818" stroke-width="2.20" stroke-linejoin="round" stroke-linecap="round" />
<line x1="589.8" y1="338.7" x2="589.8" y2="347.3" stroke="#1a1a1a" stroke-width="1.4"/>
<line x1="599.9" y1="343.9" x2="599.9" y2="346.6" stroke="#1a1a1a" stroke-width="1.3"/>
<line x1="610.1" y1="343.9" x2="610.1" y2="346.6" stroke="#1a1a1a" stroke-width="1.3"/>
<line x1="620.2" y1="343.9" x2="620.2" y2="346.6" stroke="#1a1a1a" stroke-width="1.3"/>
<line x1="630.3" y1="343.9" x2="630.3" y2="346.6" stroke="#1a1a1a" stroke-width="1.3"/>
<line x1="640.4" y1="338.7" x2="640.4" y2="347.3" stroke="#1a1a1a" stroke-width="1.4"/>
<line x1="650.6" y1="343.9" x2="650.6" y2="346.6" stroke="#1a1a1a" stroke-width="1.3"/>
<line x1="660.7" y1="343.9" x2="660.7" y2="346.6" stroke="#1a1a1a" stroke-width="1.3"/>
<line x1="670.8" y1="343.9" x2="670.8" y2="346.6" stroke="#1a1a1a" stroke-width="1.3"/>
<line x1="681.0" y1="343.9" x2="681.0" y2="346.6" stroke="#1a1a1a" stroke-width="1.3"/>
<line x1="691.1" y1="338.7" x2="691.1" y2="347.3" stroke="#1a1a1a" stroke-width="1.4"/>
<line x1="701.2" y1="343.9" x2="701.2" y2="346.6" stroke="#1a1a1a" stroke-width="1.3"/>
<line x1="711.4" y1="343.9" x2="711.4" y2="346.6" stroke="#1a1a1a" stroke-width="1.3"/>
<line x1="721.5" y1="343.9" x2="721.5" y2="346.6" stroke="#1a1a1a" stroke-width="1.3"/>
<line x1="731.6" y1="343.9" x2="731.6" y2="346.6" stroke="#1a1a1a" stroke-width="1.3"/>
<line x1="741.8" y1="338.7" x2="741.8" y2="347.3" stroke="#1a1a1a" stroke-width="1.4"/>
<line x1="751.9" y1="343.9" x2="751.9" y2="346.6" stroke="#1a1a1a" stroke-width="1.3"/>
<line x1="762.0" y1="343.9" x2="762.0" y2="346.6" stroke="#1a1a1a" stroke-width="1.3"/>
<line x1="772.1" y1="343.9" x2="772.1" y2="346.6" stroke="#1a1a1a" stroke-width="1.3"/>
<line x1="782.3" y1="343.9" x2="782.3" y2="346.6" stroke="#1a1a1a" stroke-width="1.3"/>
<line x1="792.4" y1="338.7" x2="792.4" y2="347.3" stroke="#1a1a1a" stroke-width="1.4"/>
<line x1="802.5" y1="343.9" x2="802.5" y2="346.6" stroke="#1a1a1a" stroke-width="1.3"/>
<line x1="812.7" y1="343.9" x2="812.7" y2="346.6" stroke="#1a1a1a" stroke-width="1.3"/>
<line x1="822.8" y1="343.9" x2="822.8" y2="346.6" stroke="#1a1a1a" stroke-width="1.3"/>
<line x1="832.9" y1="343.9" x2="832.9" y2="346.6" stroke="#1a1a1a" stroke-width="1.3"/>
<line x1="843.0" y1="338.7" x2="843.0" y2="347.3" stroke="#1a1a1a" stroke-width="1.4"/>
<line x1="853.2" y1="343.9" x2="853.2" y2="346.6" stroke="#1a1a1a" stroke-width="1.3"/>
<line x1="863.3" y1="343.9" x2="863.3" y2="346.6" stroke="#1a1a1a" stroke-width="1.3"/>
<line x1="873.4" y1="343.9" x2="873.4" y2="346.6" stroke="#1a1a1a" stroke-width="1.3"/>
<line x1="883.6" y1="343.9" x2="883.6" y2="346.6" stroke="#1a1a1a" stroke-width="1.3"/>
<line x1="893.7" y1="338.7" x2="893.7" y2="347.3" stroke="#1a1a1a" stroke-width="1.4"/>
<line x1="903.8" y1="343.9" x2="903.8" y2="346.6" stroke="#1a1a1a" stroke-width="1.3"/>
<line x1="914.0" y1="343.9" x2="914.0" y2="346.6" stroke="#1a1a1a" stroke-width="1.3"/>
<line x1="924.1" y1="343.9" x2="924.1" y2="346.6" stroke="#1a1a1a" stroke-width="1.3"/>
<line x1="934.2" y1="343.9" x2="934.2" y2="346.6" stroke="#1a1a1a" stroke-width="1.3"/>
<line x1="944.3" y1="338.7" x2="944.3" y2="347.3" stroke="#1a1a1a" stroke-width="1.4"/>
<line x1="954.5" y1="343.9" x2="954.5" y2="346.6" stroke="#1a1a1a" stroke-width="1.3"/>
<line x1="964.6" y1="343.9" x2="964.6" y2="346.6" stroke="#1a1a1a" stroke-width="1.3"/>
<line x1="974.7" y1="343.9" x2="974.7" y2="346.6" stroke="#1a1a1a" stroke-width="1.3"/>
<line x1="984.9" y1="343.9" x2="984.9" y2="346.6" stroke="#1a1a1a" stroke-width="1.3"/>
<line x1="995.0" y1="338.7" x2="995.0" y2="347.3" stroke="#1a1a1a" stroke-width="1.4"/>
<line x1="614.6" y1="56.4" x2="618.41" y2="69.14" stroke="#111" stroke-width="1.60"/>
<polygon points="620.70,76.80 614.10,69.38 622.15,66.97" fill="#111"/>
<line x1="648.2" y1="86.5" x2="640.64" y2="74.39" stroke="#111" stroke-width="1.60"/>
<polygon points="636.40,67.60 644.73,73.01 637.60,77.46" fill="#111"/>
<line x1="787.9" y1="45.8" x2="775.03" y2="52.78" stroke="#111" stroke-width="1.60"/>
<polygon points="768.00,56.60 773.91,48.62 777.91,56.00" fill="#111"/>
<line x1="945.4" y1="323.0" x2="928.81" y2="332.14" stroke="#111" stroke-width="1.60"/>
<polygon points="921.80,336.00 927.66,327.98 931.71,335.34" fill="#111"/>
<text x="709.0" y="19.7" font-size="18.5" fill="#111" font-weight="normal" stroke="#111" stroke-width="0.8" textLength="117.7" lengthAdjust="spacingAndGlyphs">(b) 3% Pd/CZO</text>
<text x="556.2" y="44.2" font-size="16.5" fill="#1a1a1a" font-weight="normal" stroke="#1a1a1a" stroke-width="0.75" textLength="159.5" lengthAdjust="spacingAndGlyphs">H discharge from &#946;-PdH</text>
<text x="716.5" y="47.2" font-size="11.0" fill="#1a1a1a" font-weight="normal" stroke="#1a1a1a" stroke-width="0.4" textLength="5.5" lengthAdjust="spacingAndGlyphs">x</text>
<text x="781.5" y="43.9" font-size="16.5" fill="#1a1a1a" font-weight="normal" stroke="#1a1a1a" stroke-width="0.75" textLength="154.9" lengthAdjust="spacingAndGlyphs">Well-dispersed PdO, Pd</text>
<text x="937.4" y="38.9" font-size="10.5" fill="#1a1a1a" font-weight="normal" stroke="#1a1a1a" stroke-width="0.4" textLength="12.3" lengthAdjust="spacingAndGlyphs">2+</text>
<line x1="952.8" y1="39.7" x2="960.5" y2="39.7" stroke="#1a1a1a" stroke-width="1.30"/>
<polygon points="964.0,39.7 960.0,37.1 960.0,42.3" fill="#1a1a1a"/>
<text x="964.8" y="43.9" font-size="16.5" fill="#1a1a1a" font-weight="normal" stroke="#1a1a1a" stroke-width="0.75" textLength="15.6" lengthAdjust="spacingAndGlyphs">Pd</text>
<text x="651.2" y="99.0" font-size="16.5" fill="#1a1a1a" font-weight="normal" stroke="#1a1a1a" stroke-width="0.4" textLength="180.0" lengthAdjust="spacingAndGlyphs">Pd-assisted ceria reduction</text>
<text x="651.5" y="117.0" font-size="16.5" fill="#1a1a1a" font-weight="normal" stroke="#1a1a1a" stroke-width="0.4" textLength="15.3" lengthAdjust="spacingAndGlyphs">Ce</text>
<text x="667.5" y="112.0" font-size="10.5" fill="#1a1a1a" font-weight="normal" stroke="#1a1a1a" stroke-width="0.3" textLength="12.5" lengthAdjust="spacingAndGlyphs">4+</text>
<line x1="681.6" y1="113.4" x2="689.4" y2="113.4" stroke="#1a1a1a" stroke-width="1.10"/>
<polygon points="692.9,113.4 688.9,110.8 688.9,116.0" fill="#1a1a1a"/>
<text x="694.5" y="117.0" font-size="16.5" fill="#1a1a1a" font-weight="normal" stroke="#1a1a1a" stroke-width="0.4" textLength="15.2" lengthAdjust="spacingAndGlyphs">Ce</text>
<text x="710.9" y="112.0" font-size="10.5" fill="#1a1a1a" font-weight="normal" stroke="#1a1a1a" stroke-width="0.3" textLength="12.9" lengthAdjust="spacingAndGlyphs">3+</text>
<text x="856.7" y="65.4" font-size="16.5" fill="#6a3aa2" font-weight="normal" stroke="#6a3aa2" stroke-width="0.77" textLength="92.3" lengthAdjust="spacingAndGlyphs">Fresh catalyst</text>
<text x="864.2" y="97.6" font-size="16.5" fill="#2776bd" font-weight="normal" stroke="#2776bd" stroke-width="0.77" textLength="89.9" lengthAdjust="spacingAndGlyphs">Aged catalyst</text>
<text x="833.3" y="117.0" font-size="16.5" fill="#2776bd" font-weight="normal" stroke="#2776bd" stroke-width="0.77" textLength="152.6" lengthAdjust="spacingAndGlyphs">(800&#176;C in air for 5min)</text>
<text x="863.7" y="150.2" font-size="16.5" fill="#1fa456" font-weight="normal" stroke="#1fa456" stroke-width="0.77" textLength="88.5" lengthAdjust="spacingAndGlyphs">Aged catalyst</text>
<text x="838.0" y="169.5" font-size="16.5" fill="#1fa456" font-weight="normal" stroke="#1fa456" stroke-width="0.77" textLength="141.0" lengthAdjust="spacingAndGlyphs">(800&#176;C in air for 1hr)</text>
<text x="870.3" y="205.8" font-size="16.5" fill="#ee8646" font-weight="normal" stroke="#ee8646" stroke-width="0.77" textLength="88.2" lengthAdjust="spacingAndGlyphs">Aged catalyst</text>
<text x="838.6" y="223.7" font-size="16.5" fill="#ee8646" font-weight="normal" stroke="#ee8646" stroke-width="0.77" textLength="150.9" lengthAdjust="spacingAndGlyphs">(950&#176;C in air for 5min)</text>
<text x="870.3" y="259.7" font-size="16.5" fill="#c8142c" font-weight="normal" stroke="#c8142c" stroke-width="0.77" textLength="89.8" lengthAdjust="spacingAndGlyphs">Aged catalyst</text>
<text x="834.3" y="277.6" font-size="16.5" fill="#c8142c" font-weight="normal" stroke="#c8142c" stroke-width="0.77" textLength="162.7" lengthAdjust="spacingAndGlyphs">(1050&#176;C in air for 5min)</text>
<text x="850.9" y="310.1" font-size="16.5" fill="#836d24" font-weight="normal" stroke="#836d24" stroke-width="0.77" textLength="124.6" lengthAdjust="spacingAndGlyphs">Fresh CZO support</text>
<text x="916.4" y="324.4" font-size="16.5" fill="#1a1a1a" font-weight="normal" stroke="#111" stroke-width="0.25" textLength="49.2" lengthAdjust="spacingAndGlyphs">Bulk Ce</text>
<text x="966.2" y="319.4" font-size="10.5" fill="#1a1a1a" font-weight="normal" stroke="#111" stroke-width="0.25" textLength="12.5" lengthAdjust="spacingAndGlyphs">4+</text>
<line x1="980.4" y1="320.2" x2="988.9" y2="320.2" stroke="#1a1a1a" stroke-width="1.10"/>
<polygon points="992.4,320.2 988.4,317.6 988.4,322.8" fill="#1a1a1a"/>
<text x="993.5" y="324.4" font-size="16.5" fill="#1a1a1a" font-weight="normal" stroke="#111" stroke-width="0.25" textLength="16.4" lengthAdjust="spacingAndGlyphs">Ce</text>
<text x="1010.5" y="319.4" font-size="10.5" fill="#1a1a1a" font-weight="normal" stroke="#111" stroke-width="0.25" textLength="11.5" lengthAdjust="spacingAndGlyphs">3+</text>
<text x="714.6" y="390.4" font-size="16.5" fill="#1a1a1a" font-weight="normal" stroke="#1a1a1a" stroke-width="0.77" textLength="84.8" lengthAdjust="spacingAndGlyphs">Temperature</text>
<text x="805.2" y="390.4" font-size="16.5" fill="#1a1a1a" font-weight="normal" stroke="#1a1a1a" stroke-width="0.77" textLength="4.5" lengthAdjust="spacingAndGlyphs">(</text>
<text x="810.3" y="384.9" font-size="10.0" fill="#1a1a1a" font-weight="normal" stroke="#1a1a1a" stroke-width="0.47" textLength="5.3" lengthAdjust="spacingAndGlyphs">o</text>
<text x="816.1" y="390.4" font-size="16.5" fill="#1a1a1a" font-weight="normal" stroke="#1a1a1a" stroke-width="0.77" textLength="14.1" lengthAdjust="spacingAndGlyphs">C)</text>
<g transform="translate(538.1,308.5) rotate(-90)">
<text x="0.0" y="0.0" font-size="16.5" fill="#1a1a1a" font-weight="normal" stroke="#1a1a1a" stroke-width="0.77" textLength="78.6" lengthAdjust="spacingAndGlyphs">Normalized</text>
<text x="84.0" y="0.0" font-size="16.5" fill="#1a1a1a" font-weight="normal" stroke="#1a1a1a" stroke-width="0.77" textLength="11.1" lengthAdjust="spacingAndGlyphs">H</text>
<text x="95.5" y="3.6" font-size="11.0" fill="#1a1a1a" font-weight="normal" stroke="#1a1a1a" stroke-width="0.52" textLength="4.5" lengthAdjust="spacingAndGlyphs">2</text>
<text x="103.0" y="0.0" font-size="16.5" fill="#1a1a1a" font-weight="normal" stroke="#1a1a1a" stroke-width="0.77" textLength="126.2" lengthAdjust="spacingAndGlyphs">consumption (a.u.)</text>
</g>
</g>
</svg>
</body></html>
